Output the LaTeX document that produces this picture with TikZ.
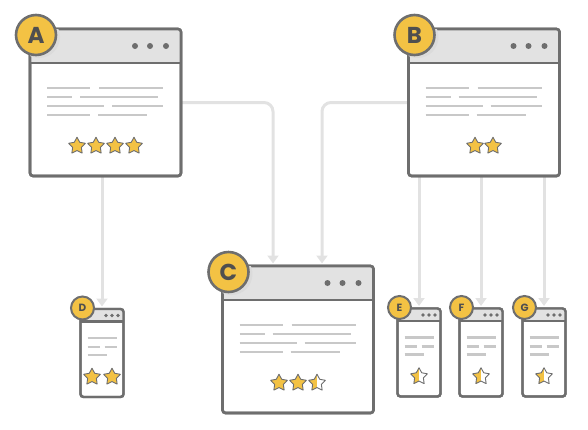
\documentclass[tikz,border=0pt]{standalone}
\usepackage{fontspec}
\setsansfont{Poppins}
\usetikzlibrary{positioning,calc,shapes.geometric,arrows.meta,backgrounds}

\definecolor{framegray}{HTML}{6E6E6E}
\definecolor{headgray}{HTML}{E2E2E2}
\definecolor{textgray}{HTML}{C8C8C8}
\definecolor{linkgray}{HTML}{E2E2E2}
\definecolor{badgeyellow}{HTML}{F3C244}
\definecolor{lettergray}{HTML}{4F4F4F}

% header, dots, text lines and badge of a big window
\newcommand{\bigwindow}[2]{
	\fill[headgray, rounded corners=3pt] (#1.north west) rectangle ($(#1.north east)+(0,34)$);
	\draw[frame, rounded corners=0pt] ($(#1.north west)+(0,34)$) -- ($(#1.north east)+(0,34)$);
	\draw[frame] (#1.north west) rectangle (#1.south east);
	\foreach \dx in {15,31,46}
		\fill[framegray] ($(#1.north east)+(-\dx,17)$) circle (3pt);
	\foreach \y/\a/\b/\c/\d in {59/17/60/69/133, 68/17/42/50/128, 77/17/74/82/133, 86/17/60/68/117}{
		\draw[textline] ($(#1.north west)+(\a,\y)$) -- ($(#1.north west)+(\b,\y)$);
		\draw[textline] ($(#1.north west)+(\c,\y)$) -- ($(#1.north west)+(\d,\y)$);
	}
	\begin{scope}
		\clip (#1.north west) rectangle ($(#1.north east)+(0,34)$);
		\fill[black!14] ($(#1.north west)+(9,8)$) circle (21pt);
	\end{scope}
	\node[bigbadge] (#1badge) at ($(#1.north west)+(6,6)$) {#2};
}

% header, dots, text lines and badge of a small window
\newcommand{\smallwindow}[2]{
	\fill[headgray, rounded corners=3pt] (#1.north west) rectangle ($(#1.north east)+(0,12.5)$);
	\draw[frame, line width=2.2pt, rounded corners=0pt] ($(#1.north west)+(0,12.5)$) -- ($(#1.north east)+(0,12.5)$);
	\draw[frame, line width=2.4pt] (#1.north west) rectangle (#1.south east);
	\foreach \dx in {5.5,11.5,17.5}
		\fill[framegray] ($(#1.north east)+(-\dx,6.5)$) circle (1.8pt);
	\draw[textline] ($(#1.north west)+(7,29)$) -- ($(#1.north west)+(36,29)$);
	\draw[textline] ($(#1.north west)+(7,38)$) -- ($(#1.north west)+(19,38)$);
	\draw[textline] ($(#1.north west)+(24,38)$) -- ($(#1.north west)+(36,38)$);
	\draw[textline] ($(#1.north west)+(7,46)$) -- ($(#1.north west)+(26,46)$);
	\node[smallbadge] (#1badge) at ($(#1.north west)+(2,-1)$) {#2};
}

\begin{document}
\begin{tikzpicture}[
		x=1pt, y=-1pt,
		frame/.style={draw=framegray, line width=2.6pt, rounded corners=3pt},
		bigwin/.style={frame, fill=white, minimum width=151pt, minimum height=147pt, inner sep=0pt, outer sep=0pt},
		smallwin/.style={frame, line width=2.4pt, fill=white, minimum width=43pt, minimum height=88pt, inner sep=0pt, outer sep=0pt},
		bigbadge/.style={circle, draw=framegray, line width=2.6pt, fill=badgeyellow, minimum size=40pt, inner sep=0pt,
			font=\sffamily\bfseries\fontsize{23pt}{23pt}\selectfont, text=lettergray},
		smallbadge/.style={bigbadge, line width=2pt, minimum size=23pt, font=\sffamily\bfseries\fontsize{10.5pt}{10.5pt}\selectfont},
		rating/.style={star, star points=5, star point ratio=1.9, minimum size=17.5pt, inner sep=0pt,
			fill=badgeyellow, draw=framegray, line width=0.9pt, line join=round},
		halfrating/.style={rating, fill=white, path picture={
			\fill[badgeyellow] (path picture bounding box.south west) rectangle (path picture bounding box.north);}},
		textline/.style={draw=textgray, line width=2.8pt},
		link/.style={draw=linkgray, line width=3pt, rounded corners=9pt, -{Triangle[width=11pt,length=8pt]}, shorten >=2.5pt}
	]
	\useasboundingbox (0,0) rectangle (588,429);

	% windows
	\node[bigwin] (A) at (105.5,102.5) {};
	\node[bigwin] (B) at (484,102.5) {};
	\node[bigwin] (C) at (298,339.5) {};
	\node[smallwin] (D) at (102,353) {};
	\node[smallwin] (E) at (419,352.5) {};
	\node[smallwin] (F) at (481,352.5) {};
	\node[smallwin] (G) at (544,352.5) {};

	% links
	\begin{scope}[on background layer]
		\draw[link] (A.east) -| ($(C.north)+(-25,0)$);
		\draw[link] (B.west) -| ($(C.north)+(24,0)$);
		\draw[link] (A.south -| D.north) -- (D.north);
		\foreach \w in {E,F,G}
			\draw[link] (B.south -| \w.north) -- (\w.north);
	\end{scope}

	\bigwindow{A}{A}
	\bigwindow{B}{B}
	\bigwindow{C}{C}
	\smallwindow{D}{D}
	\smallwindow{E}{E}
	\smallwindow{F}{F}
	\smallwindow{G}{G}

	% ratings
	\foreach \dx [count=\i] in {-28.5,-9.5,9.5,28.5}
		\node[rating] (Astar\i) at ($(A.south)+(\dx,-30)$) {};
	\foreach \dx [count=\i] in {-9,9}
		\node[rating] (Bstar\i) at ($(B.south)+(\dx,-30)$) {};
	\foreach \dx [count=\i] in {-19,0}
		\node[rating] (Cstar\i) at ($(C.south)+(\dx,-30)$) {};
	\node[halfrating] (Cstar3) at ($(C.south)+(19,-30)$) {};
	\foreach \dx [count=\i] in {-10,10}
		\node[rating] (Dstar\i) at ($(D.south)+(\dx,-20)$) {};
	\foreach \w in {E,F,G}
		\node[halfrating] (\w star) at ($(\w.south)+(0,-20)$) {};
\end{tikzpicture}
\end{document}
